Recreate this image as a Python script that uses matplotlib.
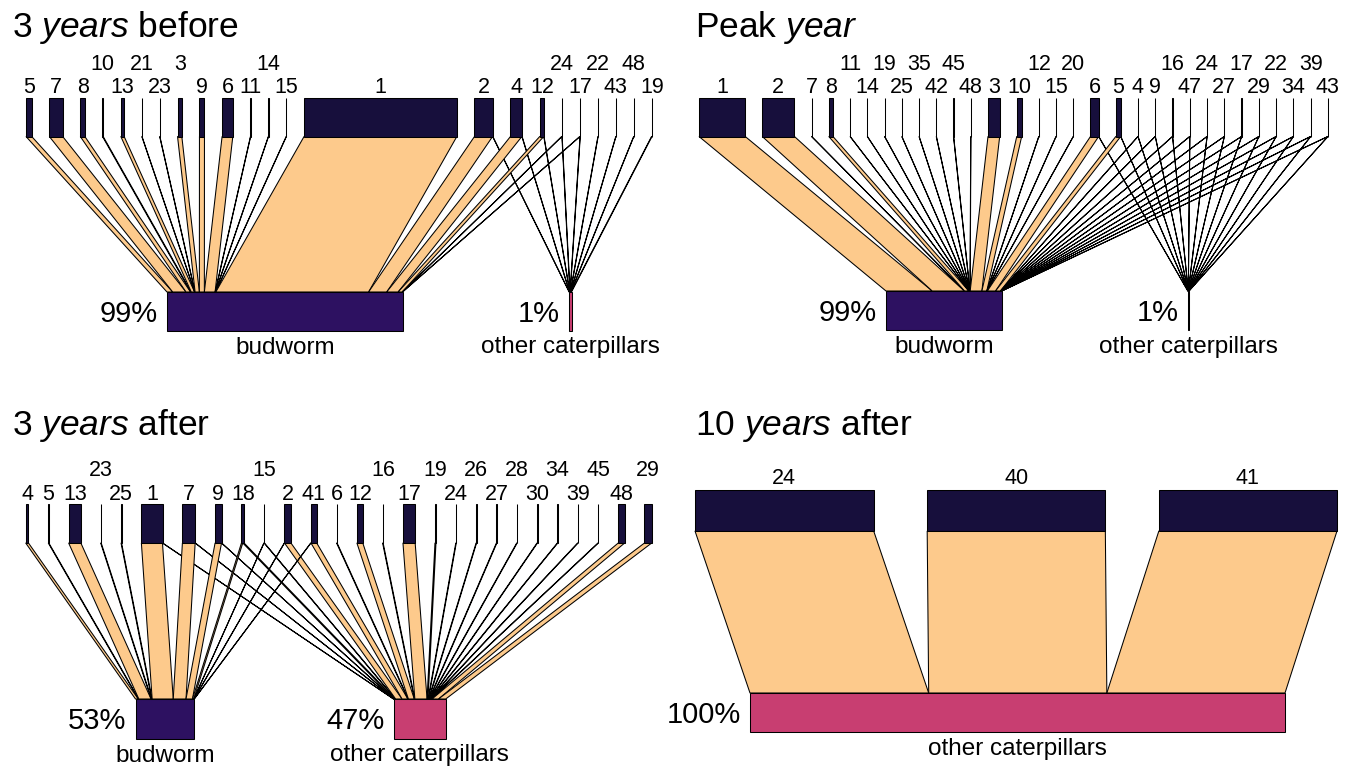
import matplotlib
matplotlib.use("Agg")
import matplotlib.pyplot as plt
from matplotlib.patches import Polygon, Rectangle

plt.rcParams["font.family"] = ["Liberation Sans", "DejaVu Sans"]
plt.rcParams["mathtext.fontset"] = "custom"
plt.rcParams["mathtext.rm"] = "Liberation Sans"
plt.rcParams["mathtext.it"] = "Liberation Sans:italic"

HOSTS = ["budworm", "other caterpillars"]

# Share of all parasitism records (%) per parasitoid species and host group.

# 3 years before the outbreak peak
before_parasitoids = ["5", "7", "8", "10", "13", "21", "23", "3", "9", "6", "11", "14",
                      "15", "1", "2", "4", "12", "24", "17", "22", "43", "48", "19"]
before_budworm = [2.4, 5.6, 1.9, 0.3, 1.4, 0.1, 0.1, 1.8, 2.1, 4.5, 0.1, 0.1,
                  0.1, 64.2, 7.6, 4.8, 1.7, 0.1, 0.1, 0.0, 0.0, 0.0, 0.0]
before_other = [0.0, 0.0, 0.0, 0.0, 0.0, 0.0, 0.0, 0.0, 0.0, 0.0, 0.0, 0.0,
                0.0, 0.0, 0.1, 0.1, 0.1, 0.1, 0.1, 0.1, 0.1, 0.1, 0.2]

# Peak year
peak_parasitoids = ["1", "2", "7", "8", "11", "14", "19", "25", "35", "42", "45", "48",
                    "3", "10", "12", "15", "20", "6", "5", "4", "9", "16", "47", "24",
                    "27", "17", "29", "22", "34", "39", "43"]
peak_budworm = [39.5, 27.5, 0.15, 3.6, 0.15, 0.15, 0.15, 0.15, 0.15, 0.15, 0.15, 0.15,
                10.0, 4.2, 0.15, 0.15, 0.15, 7.0, 4.2, 0.1, 0.1, 0.1, 0.1, 0.1,
                0.1, 0.1, 0.1, 0.1, 0.1, 0.1, 0.1]
peak_other = [0.0, 0.0, 0.0, 0.0, 0.0, 0.0, 0.0, 0.0, 0.0, 0.0, 0.0, 0.0,
              0.0, 0.0, 0.0, 0.0, 0.0, 0.08, 0.08, 0.07, 0.07, 0.07, 0.07, 0.07,
              0.07, 0.07, 0.07, 0.07, 0.07, 0.07, 0.07]

# 3 years after the peak
after3_parasitoids = ["4", "5", "13", "23", "25", "1", "7", "9", "18", "15", "2", "41",
                      "6", "12", "16", "17", "19", "24", "26", "27", "28", "30", "34",
                      "39", "45", "48", "29"]
after3_budworm = [2.5, 0.5, 11.0, 0.5, 0.5, 19.0, 11.5, 5.8, 1.2, 0.1, 0.2, 0.2,
                  0.0, 0.0, 0.0, 0.0, 0.0, 0.0, 0.0, 0.0, 0.0, 0.0, 0.0,
                  0.0, 0.0, 0.0, 0.0]
after3_other = [0.0, 0.0, 0.0, 0.0, 0.0, 0.1, 0.1, 0.1, 1.2, 0.4, 5.8, 5.2,
                0.5, 5.3, 0.5, 11.0, 0.9, 0.45, 0.45, 0.45, 0.45, 0.45, 0.45,
                0.45, 0.45, 5.8, 6.5]

# 10 years after the peak
after10_parasitoids = ["24", "40", "41"]
after10_budworm = [0.0, 0.0, 0.0]
after10_other = [33.4, 33.3, 33.3]

PANELS = [
    (r"3 $\mathit{years}$ before", before_parasitoids, before_budworm, before_other,
     dict(top_span=(26, 652), scale=2.38, bottom_span=(167, 571.5),
          y_top=(97.5, 136.5), y_bottom=(292, 330.5), label_base=93, title_xy=(12, 37))),
    (r"Peak $\mathit{year}$", peak_parasitoids, peak_budworm, peak_other,
     dict(top_span=(699, 1328), scale=1.17, bottom_span=(886, 1189),
          y_top=(97.5, 136.5), y_bottom=(291, 330), label_base=93, title_xy=(695, 37))),
    (r"3 $\mathit{years}$ after", after3_parasitoids, after3_budworm, after3_other,
     dict(top_span=(25.7, 651.7), scale=1.11, bottom_span=(135.5, 445.7),
          y_top=(504, 543), y_bottom=(699, 738.5), label_base=499.5, title_xy=(12, 435))),
    (r"10 $\mathit{years}$ after", after10_parasitoids, after10_budworm, after10_other,
     dict(top_span=(695, 1337), scale=5.35, bottom_span=(750, 1285),
          y_top=(490, 531), y_bottom=(693, 732), label_base=484, title_xy=(695, 435))),
]

TOP_COLOR = "#170f3c"
HOST_COLORS = {"budworm": "#2d1161", "other caterpillars": "#c83e71"}
LINK_COLOR = "#fdca8c"
EDGE_LW = 0.75

TITLE_SIZE = 25.5
NODE_SIZE = 15.5
PCT_SIZE = 21
HOST_SIZE = 17.5
ROW_STEP = 23.5
LABEL_PAD = 4.0

W, H = 1353, 766
fig = plt.figure(figsize=(W / 100, H / 100), dpi=100)
ax = fig.add_axes([0, 0, 1, 1])
ax.set_xlim(0, W)
ax.set_ylim(H, 0)
ax.axis("off")
renderer = fig.canvas.get_renderer()


def text_width(s, size):
    t = ax.text(0, 0, s, fontsize=size)
    w = t.get_window_extent(renderer).width
    t.remove()
    return w


def row_layout(widths, span):
    """Boxes of the given widths spread evenly over span, returns left edges."""
    x0, x1 = span
    n = len(widths)
    gap = (x1 - x0 - sum(widths)) / (n - 1) if n > 1 else 0.0
    lefts, x = [], x0
    for w in widths:
        lefts.append(x)
        x += w + gap
    return lefts


def draw_web(title, parasitoids, on_budworm, on_other, lay):
    links = {"budworm": on_budworm, "other caterpillars": on_other}
    hosts = [h for h in HOSTS if sum(links[h]) > 0]
    s = lay["scale"]
    n = len(parasitoids)

    top_w = [sum(links[h][i] for h in hosts) * s for i in range(n)]
    top_l = row_layout(top_w, lay["top_span"])
    bot_w = [sum(links[h]) * s for h in hosts]
    bot_l = row_layout(bot_w, lay["bottom_span"])

    yt0, yt1 = lay["y_top"]
    yb0, yb1 = lay["y_bottom"]

    # interaction bands
    top_cursor = list(top_l)
    bot_cursor = list(bot_l)
    for i in range(n):
        for j, h in enumerate(hosts):
            w = links[h][i] * s
            if links[h][i] <= 0:
                continue
            ta, tb = top_cursor[i], top_cursor[i] + w
            ba, bb = bot_cursor[j], bot_cursor[j] + w
            top_cursor[i] = tb
            bot_cursor[j] = bb
            ax.add_patch(Polygon([(ta, yt1), (tb, yt1), (bb, yb0), (ba, yb0)],
                                 closed=True, facecolor=LINK_COLOR, edgecolor="black",
                                 linewidth=EDGE_LW, zorder=1))

    # parasitoid boxes and staggered labels
    last_right = -1e9
    for i, lab in enumerate(parasitoids):
        ax.add_patch(Rectangle((top_l[i], yt0), top_w[i], yt1 - yt0,
                               facecolor=TOP_COLOR, edgecolor="black",
                               linewidth=EDGE_LW, zorder=2))
        c = top_l[i] + top_w[i] / 2
        hw = text_width(lab, NODE_SIZE) / 2
        if c - hw < last_right + LABEL_PAD:
            y = lay["label_base"] - ROW_STEP
        else:
            y = lay["label_base"]
            last_right = c + hw
        ax.text(c, y, lab, fontsize=NODE_SIZE, ha="center", va="baseline")

    # host boxes with shares
    total = sum(sum(links[h]) for h in HOSTS)
    cap = 0.716 * PCT_SIZE * 100 / 72
    for j, h in enumerate(hosts):
        ax.add_patch(Rectangle((bot_l[j], yb0), bot_w[j], yb1 - yb0,
                               facecolor=HOST_COLORS[h], edgecolor="black",
                               linewidth=EDGE_LW, zorder=2))
        pct = round(100 * sum(links[h]) / total)
        ax.text(bot_l[j] - 9, (yb0 + yb1) / 2 + cap / 2, f"{pct}%",
                fontsize=PCT_SIZE, ha="right", va="baseline")
        ax.text(bot_l[j] + bot_w[j] / 2, yb1 + 23, h, fontsize=HOST_SIZE,
                ha="center", va="baseline")

    tx, ty = lay["title_xy"]
    ax.text(tx, ty, title, fontsize=TITLE_SIZE, ha="left", va="baseline")


for title, names, bud, oth, lay in PANELS:
    draw_web(title, names, bud, oth, lay)

fig.savefig("out.png", dpi=100, facecolor="white")
